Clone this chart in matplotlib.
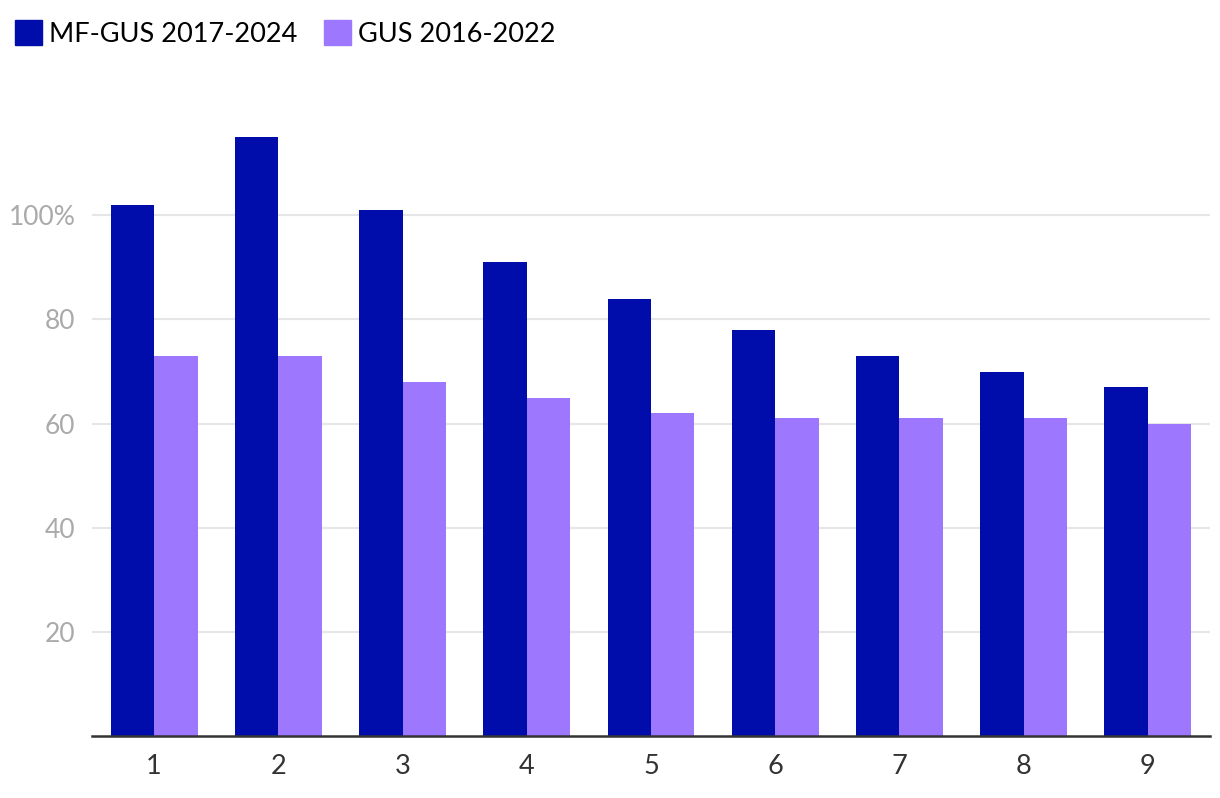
import numpy as np
import matplotlib
matplotlib.use("Agg")
import matplotlib.pyplot as plt
from matplotlib.patches import Patch

categories = ["1", "2", "3", "4", "5", "6", "7", "8", "9"]
mf_gus = [102, 115, 101, 91, 84, 78, 73, 70, 67]
gus = [73, 73, 68, 65, 62, 61, 61, 61, 60]
series_names = ["MF-GUS 2017-2024", "GUS 2016-2022"]
y_ticks = [20, 40, 60, 80, 100]
y_tick_labels = ["20", "40", "60", "80", "100%"]

dark = "#000daa"
light = "#9e77ff"

plt.rcParams["font.family"] = ["Lato", "DejaVu Sans"]

fig = plt.figure(figsize=(12.2, 7.98), dpi=100)
ax = fig.add_axes([0.0754, 0.0777, 0.9164, 0.783])

x = np.arange(len(categories))
w = 0.35
ax.bar(x - w / 2, mf_gus, width=w, color=dark, zorder=3)
ax.bar(x + w / 2, gus, width=w, color=light, zorder=3)

ax.set_xlim(-0.5, len(categories) - 0.5)
ax.set_ylim(0, 120)
ax.set_xticks(x)
ax.set_xticklabels(categories, fontsize=19.5, color="#333333")
ax.set_yticks(y_ticks)
ax.set_yticklabels(y_tick_labels, fontsize=19, color="#aaaaaa")
ax.tick_params(axis="both", length=0)
ax.tick_params(axis="x", pad=13)
ax.tick_params(axis="y", pad=12)

ax.grid(axis="y", color="#e6e6e6", linewidth=1.5, zorder=0)
for side in ["top", "right", "left"]:
    ax.spines[side].set_visible(False)
ax.spines["bottom"].set_color("#333333")
ax.spines["bottom"].set_linewidth(1.8)
ax.spines["bottom"].set_zorder(4)

handles = [Patch(color=dark), Patch(color=light)]
fig.legend(handles, series_names, loc="upper left", bbox_to_anchor=(0.0, 0.993),
           ncol=2, frameon=False, fontsize=19.5, handlelength=1.0,
           handleheight=1.0, handletextpad=0.25, columnspacing=1.0,
           borderaxespad=0.2, borderpad=0.35)

fig.savefig("out.png", dpi=100)
